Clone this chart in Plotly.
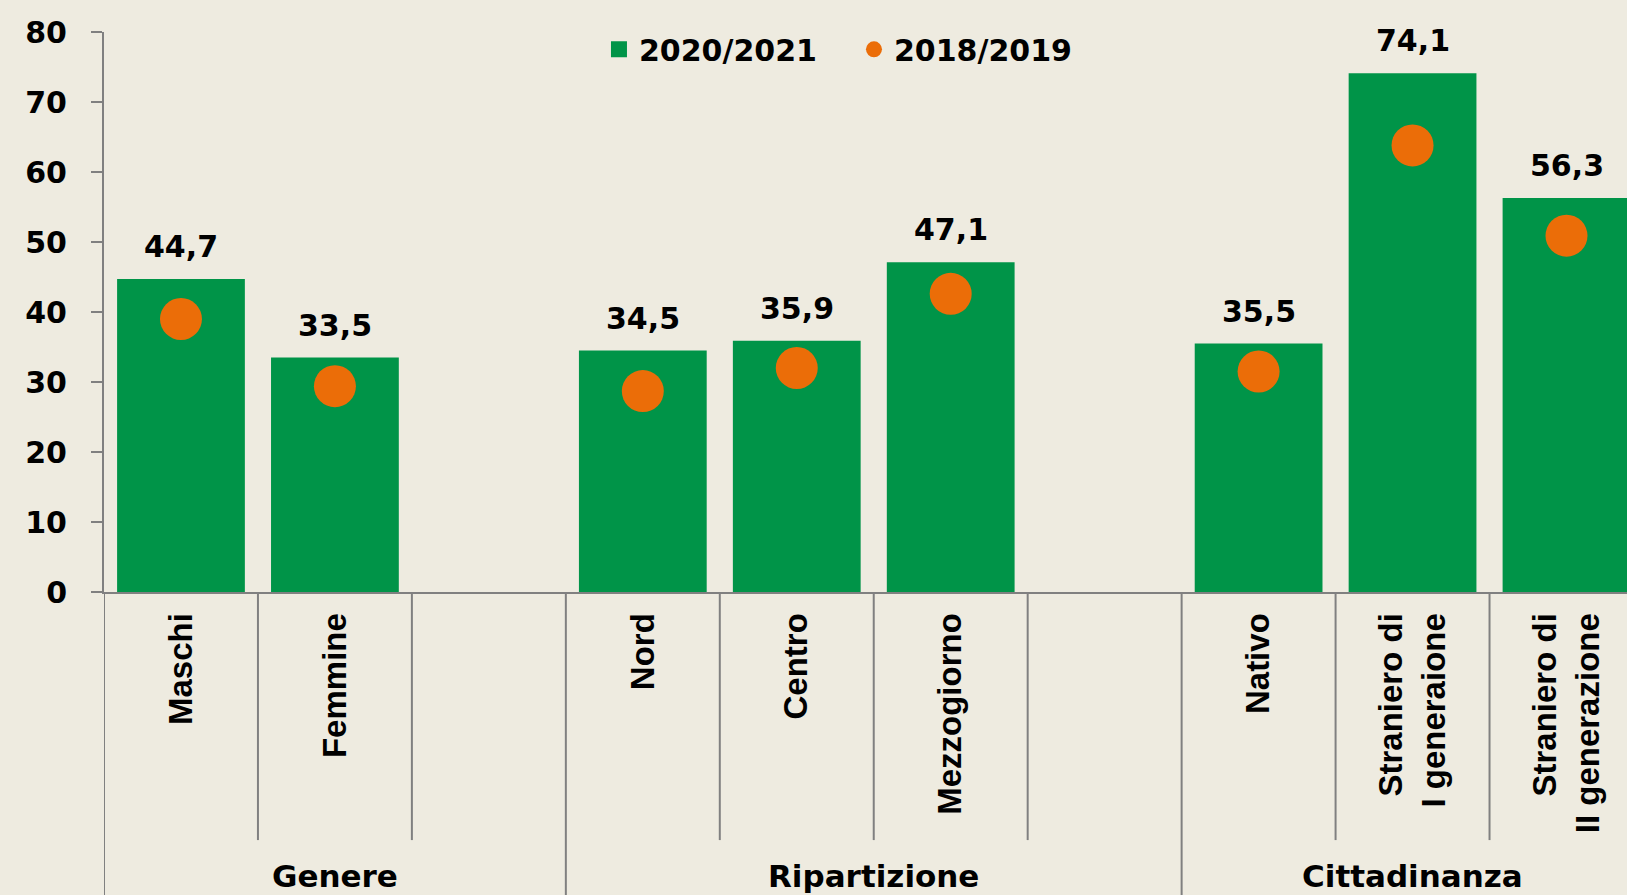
import plotly.graph_objects as go

# ----------------------------------------------------------------------
# dati
categorie = ["Maschi", "Femmine", " ",
             "Nord", "Centro", "Mezzogiorno", "  ",
             "Nativo", "Straniero di<br>I generaione", "Straniero di<br>II generazione"]
anno_2021 = [44.7, 33.5, None, 34.5, 35.9, 47.1, None, 35.5, 74.1, 56.3]
anno_2019 = [39.0, 29.4, None, 28.7, 32.0, 42.6, None, 31.5, 63.8, 50.9]
gruppi = ["Genere", "Ripartizione", "Cittadinanza"]
gruppi_inizio = [0, 3, 7]
gruppi_fine = [2, 6, 9]
# ----------------------------------------------------------------------

VERDE = '#009448'
ARANCIO = '#EB6D08'
SFONDO = '#EEEBE0'
GRIGIO = '#808080'
FONT = 'DejaVu Sans, Arial, sans-serif'
FONT_CAT = 'Liberation Sans, Arial, sans-serif'

fig = go.Figure()

fig.add_trace(go.Bar(x=categorie, y=anno_2021,
                     marker=dict(color=VERDE, line=dict(width=0)),
                     name='2020/2021', showlegend=False, legendgroup='a'))
# voce di legenda (quadrato piu grande del default delle barre)
fig.add_trace(go.Scatter(x=[None], y=[None], mode='markers', name='2020/2021',
                         marker=dict(symbol='square', size=20, color=VERDE),
                         legendgroup='a'))
fig.add_trace(go.Scatter(x=categorie, y=anno_2019, mode='markers', name='2018/2019',
                         marker=dict(symbol='circle', size=42, color=ARANCIO)))

# etichette valori sopra le barre
for i, v in enumerate(anno_2021):
    if v is None:
        continue
    fig.add_annotation(x=i, y=v, text=f"{v:.1f}".replace('.', ','),
                       showarrow=False, yanchor='bottom', yshift=13,
                       font=dict(family=FONT, size=30, color='black', weight='bold'))

# linee di separazione categorie / gruppi
for i in range(1, len(categorie)):
    if i in gruppi_inizio:
        continue
    fig.add_shape(type='line', xref='x', yref='paper', x0=i - 0.5, x1=i - 0.5,
                  y0=0, y1=-0.443, line=dict(color=GRIGIO, width=2))
for s in gruppi_inizio:
    fig.add_shape(type='line', xref='x', yref='paper', x0=s - 0.5, x1=s - 0.5,
                  y0=0, y1=-0.6, line=dict(color=GRIGIO, width=2))

# etichette dei gruppi
for g, s, e in zip(gruppi, gruppi_inizio, gruppi_fine):
    fig.add_annotation(x=(s + e) / 2, y=-0.507, xref='x', yref='paper',
                       text=g, showarrow=False, yanchor='middle',
                       font=dict(family=FONT, size=31, color='black', weight='bold'))

fig.update_layout(
    width=1627, height=895,
    margin=dict(l=104, r=0, t=32, b=303),
    plot_bgcolor=SFONDO,
    paper_bgcolor=SFONDO,
    bargap=0.17,
    font=dict(family=FONT, size=30, color='black', weight='bold'),
    legend=dict(orientation='h', x=0.325, xanchor='left', y=0.969, yanchor='middle',
                bgcolor='rgba(0,0,0,0)', font=dict(size=30, weight='bold'),
                itemsizing='trace', entrywidth=210),
)
fig.update_xaxes(type='category', categoryorder='array', categoryarray=categorie,
                 range=[-0.5, 9.393], showline=True, linecolor=GRIGIO, linewidth=2,
                 ticks='', tickangle=-90, ticklabelstandoff=6, showgrid=False,
                 tickfont=dict(family=FONT_CAT, size=33, color='black', weight='bold'))
fig.update_yaxes(range=[0, 80], dtick=10, showline=True, linecolor=GRIGIO, linewidth=2,
                 ticks='outside', ticklen=11, tickwidth=2, tickcolor=GRIGIO,
                 ticklabelstandoff=18, showgrid=False, zeroline=False,
                 tickfont=dict(family=FONT, size=30, color='black', weight='bold'))

fig.write_html("out.html", config={'displayModeBar': False},
               post_script="document.body.style.margin='0';"
                           "document.body.style.background='" + SFONDO + "';")
